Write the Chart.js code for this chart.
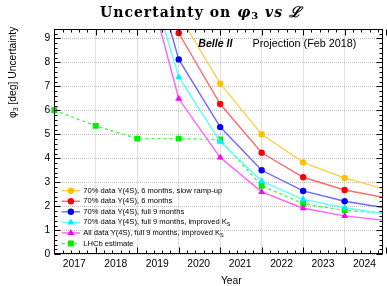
<!DOCTYPE html>
<html>
<head>
<meta charset="utf-8">
<script src="https://cdn.jsdelivr.net/npm/chart.js@4.4.0/dist/chart.umd.min.js"></script>
<style>
  body { margin: 0; background: #fff; }
  #wrap { width: 387px; height: 286px; }
</style>
</head>
<body>
<div id="wrap"><canvas id="phi3Chart" width="387" height="286"></canvas></div>
<script>
// values, one entry per year (null = no point)
const years = [2017, 2018, 2019, 2020, 2021, 2022, 2023, 2024, 2025];
const slowRampUp = [null, null, null, 10.0, 7.11, 5.0, 3.83, 3.18, 2.70];
const sixMonths = [null, null, 15.0, 9.22, 6.26, 4.23, 3.21, 2.68, 2.35];
const fullNineMonths = [null, null, 14.2, 8.12, 5.30, 3.50, 2.64, 2.21, 1.93];
const improvedKs = [null, null, 13.2, 7.39, 4.69, 3.05, 2.29, 1.94, 1.68];
const allDataImprovedKs = [null, null, 13.0, 6.48, 4.03, 2.60, 1.92, 1.60, 1.41];
const lhcbEstimate = [6.0, 5.35, 4.82, 4.82, 4.78, 2.85, 2.11, 1.83, 1.72];

const yearLabels = [2017, 2018, 2019, 2020, 2021, 2022, 2023, 2024];
const yTicks = [0, 1, 2, 3, 4, 5, 6, 7, 8, 9];
const legendLabels = [
  "70% data \u03A5(4S), 6 months, slow ramp-up",
  "70% data \u03A5(4S), 6 months",
  "70% data \u03A5(4S), full 9 months",
  "70% data \u03A5(4S), full 9 months, improved K_S",
  "All data \u03A5(4S), full 9 months, improved K_S",
  "LHCb estimate",
];

const xMin = 2017, xMax = 2024.92, yMin = 0, yMax = 9.4;
const labelShift = 0.48; // year labels sit in the middle of each year
const FONT = '"Liberation Sans", Arial, sans-serif';

const toPoints = (arr) => years.map((yr, i) => ({ x: yr, y: arr[i] }));

function makeSet(label, arr, line, marker, style, radius, dash) {
  return {
    label: label,
    data: toPoints(arr),
    borderColor: line,
    backgroundColor: marker,
    pointBackgroundColor: marker,
    pointBorderColor: marker,
    pointBorderWidth: 0,
    pointStyle: style,
    pointRadius: radius,
    borderWidth: 1.4,
    borderDash: dash || [],
    tension: 0,
    clip: { left: 6, top: 0, right: 0, bottom: 0 },
  };
}

const datasets = [
  makeSet(legendLabels[0], slowRampUp, "#ffd050", "#ffc000", "circle", 3.2),
  makeSet(legendLabels[1], sixMonths, "#ff6a6a", "#ff0000", "circle", 3.2),
  makeSet(legendLabels[2], fullNineMonths, "#6a6aff", "#0000ff", "circle", 3.2),
  makeSet(legendLabels[3], improvedKs, "#60ffff", "#00f0ff", "triangle", 4),
  makeSet(legendLabels[4], allDataImprovedKs, "#ff60ff", "#ff00ff", "triangle", 4),
  makeSet(legendLabels[5], lhcbEstimate, "#40ff40", "#00ee00", "rect", 4.2, [3, 3]),
];

// draw text made of pieces with different fonts / offsets
function drawPieces(ctx, pieces, x, y, align) {
  let total = 0;
  pieces.forEach((p) => { ctx.font = p.f; total += ctx.measureText(p.t).width; });
  let cx = align === "center" ? x - total / 2 : align === "right" ? x - total : x;
  ctx.textAlign = "left";
  pieces.forEach((p) => {
    ctx.font = p.f;
    ctx.fillText(p.t, cx, y + (p.dy || 0));
    cx += ctx.measureText(p.t).width;
  });
  return total;
}

function drawMarker(ctx, style, x, y, color) {
  ctx.fillStyle = color;
  ctx.beginPath();
  if (style === "circle") {
    ctx.arc(x, y, 3.2, 0, Math.PI * 2);
  } else if (style === "triangle") {
    const r = 4;
    ctx.moveTo(x, y - r);
    ctx.lineTo(x + r * 0.866, y + r * 0.5);
    ctx.lineTo(x - r * 0.866, y + r * 0.5);
    ctx.closePath();
  } else {
    ctx.rect(x - 3, y - 3, 6, 6);
  }
  ctx.fill();
}

const rootStyle = {
  id: "rootStyle",
  afterDraw(chart) {
    const { ctx, chartArea: a, scales } = chart;
    const xs = scales.x, ys = scales.y;
    ctx.save();

    // frame + ticks on all four sides
    ctx.strokeStyle = "#000";
    ctx.lineWidth = 1;
    const L = Math.round(a.left) + 0.5, R = Math.round(a.right) - 0.5;
    const T = Math.round(a.top) + 0.5, B = Math.round(a.bottom) - 0.5;
    ctx.strokeRect(L, T, R - L, B - T);
    ctx.beginPath();
    const nx = Math.round((xMax - xMin) * 5);
    for (let i = 0; i <= nx; i++) {
      const px = Math.round(xs.getPixelForValue(xMin + i / 5)) + 0.5;
      const len = i % 5 === 0 ? 6 : 3;
      ctx.moveTo(px, B); ctx.lineTo(px, B - len);
      ctx.moveTo(px, T); ctx.lineTo(px, T + len);
    }
    const ny = Math.round((yMax - yMin) * 5);
    for (let i = 0; i <= ny; i++) {
      const py = Math.round(ys.getPixelForValue(yMin + i / 5)) + 0.5;
      const len = i % 5 === 0 ? 6 : 3;
      ctx.moveTo(L, py); ctx.lineTo(L + len, py);
      ctx.moveTo(R, py); ctx.lineTo(R - len, py);
    }
    ctx.stroke();

    ctx.fillStyle = "#000";
    ctx.textBaseline = "middle";

    // title, slightly spaced out like the original
    const serif = '"DejaVu Serif", "Liberation Serif", serif';
    ctx.save();
    ctx.letterSpacing = "1px";
    drawPieces(ctx, [
      { t: "Uncertainty on ", f: "bold 14px " + serif },
      { t: "\u03C6", f: "bold italic 14.5px " + serif },
      { t: "3", f: "bold 10px " + serif, dy: 3 },
      { t: " vs ", f: "bold italic 14px " + serif },
      { t: "\u2112", f: "bold italic 14.5px " + serif },
    ], 201, 13, "center");
    ctx.restore();

    // axis titles
    ctx.font = "10.3px " + FONT;
    ctx.textAlign = "center";
    ctx.fillText("Year", a.left + 177, 281);

    ctx.save();
    ctx.translate(13.5, a.top - 2);
    ctx.rotate(-Math.PI / 2);
    drawPieces(ctx, [
      { t: "\u03C6", f: "10.3px " + FONT },
      { t: "3", f: "7px " + FONT, dy: 3 },
      { t: " [deg] Uncertainty", f: "10.3px " + FONT },
    ], 0, 0, "right");
    ctx.restore();

    // annotation
    ctx.font = "bold italic 10.6px " + FONT;
    ctx.textAlign = "left";
    ctx.fillText("Belle II", xs.getPixelForValue(2020.47), ys.getPixelForValue(8.75));
    ctx.font = "10.8px " + FONT;
    ctx.fillText("Projection (Feb 2018)", xs.getPixelForValue(2021.78), ys.getPixelForValue(8.75));

    // legend inside the frame, bottom left
    chart.data.datasets.forEach((ds, i) => {
      const cy = ys.getPixelForValue(2.65 - i * 0.44);
      const x0 = a.left + 7.4, x1 = a.left + 25.7;
      ctx.strokeStyle = ds.borderColor;
      ctx.lineWidth = ds.borderWidth;
      ctx.setLineDash(ds.borderDash);
      ctx.beginPath();
      ctx.moveTo(x0, cy); ctx.lineTo(x1, cy);
      ctx.stroke();
      ctx.setLineDash([]);
      drawMarker(ctx, ds.pointStyle, (x0 + x1) / 2, cy, ds.pointBackgroundColor);
      ctx.fillStyle = "#000";
      const parts = ds.label.split("_");
      const pieces = [{ t: parts[0], f: "7.6px " + FONT }];
      if (parts[1]) pieces.push({ t: parts[1], f: "5.5px " + FONT, dy: 2.5 });
      drawPieces(ctx, pieces, a.left + 29, cy, "left");
    });

    ctx.restore();
  },
};

new Chart(document.getElementById("phi3Chart"), {
  type: "line",
  data: { datasets: datasets },
  options: {
    responsive: false,
    animation: false,
    events: [],
    layout: { padding: { top: 28.7, right: 2, bottom: 0, left: 0 } },
    plugins: { legend: { display: false }, title: { display: false }, tooltip: { enabled: false } },
    scales: {
      x: {
        type: "linear",
        min: xMin,
        max: xMax,
        afterBuildTicks: (axis) => {
          const t = [];
          yearLabels.forEach((yr) => { t.push({ value: yr }); t.push({ value: yr + labelShift }); });
          axis.ticks = t;
        },
        afterFit: (axis) => { axis.height = 31.7; },
        grid: {
          drawTicks: false,
          color: (c) => (c.tick && Number.isInteger(c.tick.value) ? "#c4c4c4" : "rgba(0,0,0,0)"),
          lineWidth: 1,
        },
        border: { display: false, dash: [1, 1] },
        ticks: {
          autoSkip: false,
          maxRotation: 0,
          minRotation: 0,
          padding: 4,
          color: "#000",
          font: { family: FONT, size: 10.3 },
          callback: (v) => (Number.isInteger(v) ? "" : String(Math.round(v - labelShift))),
        },
      },
      y: {
        min: yMin,
        max: yMax,
        afterBuildTicks: (axis) => { axis.ticks = yTicks.map((v) => ({ value: v })); },
        afterFit: (axis) => { axis.width = 54.3; },
        grid: { drawTicks: false, color: "#bdbdbd", lineWidth: 1 },
        border: { display: false, dash: [1, 1] },
        ticks: {
          padding: 4,
          color: "#000",
          font: { family: FONT, size: 10.3 },
          callback: (v) => String(v),
        },
      },
    },
  },
  plugins: [rootStyle],
});
</script>
</body>
</html>
